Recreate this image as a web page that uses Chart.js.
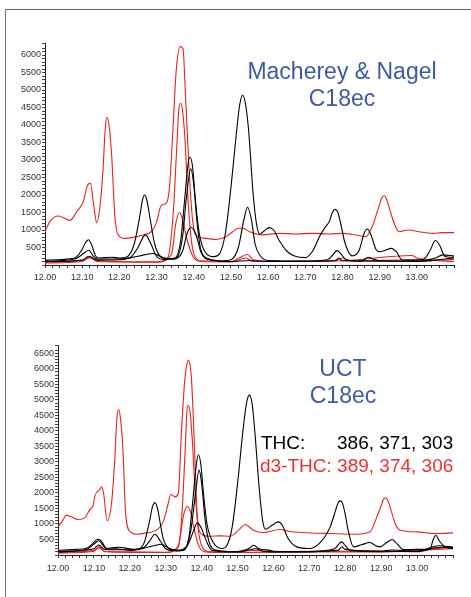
<!DOCTYPE html>
<html>
<head>
<meta charset="utf-8">
<script src="https://cdn.jsdelivr.net/npm/chart.js@4"></script>
<style>
  body { margin: 0; background: #fff; width: 471px; height: 597px; overflow: hidden; position: relative;
         font-family: Arial, "Liberation Sans", sans-serif; }
  #frame { position: absolute; left: 5px; top: 9px; width: 470px; height: 600px;
           border-top: 1.5px solid #666; border-left: 1.5px solid #777; }
  canvas { position: absolute; left: 0; }
  .title { position: absolute; width: 220px; text-align: center; color: #3c5aa8;
           font-size: 23px; line-height: 27px; }
  .ions { position: absolute; font-size: 19px; line-height: 23px; white-space: pre; }
</style>
</head>
<body>
<div id="frame"></div>
<canvas id="top" width="471" height="300" style="top:0"></canvas>
<canvas id="bottom" width="471" height="297" style="top:300px"></canvas>
<div class="title" style="left:232px; top:58px">Macherey &amp; Nagel<br>C18ec</div>
<div class="title" style="left:233px; top:355px">UCT<br>C18ec</div>
<div class="ions" style="left:261px; top:431px; color:#000">THC:</div>
<div class="ions" style="left:337px; top:431px; color:#000">386, 371, 303</div>
<div class="ions" style="left:260px; top:454px; color:#f03030">d3-THC: 389, 374, 306</div>
<script>
// retention time (min) / abundance pairs

// Macherey & Nagel C18ec
const mnBlack1 = [[12.00,140],[12.08,200],[12.10,450],[12.108,620],[12.117,720],[12.126,560],[12.135,280],[12.145,200],
  [12.16,210],[12.18,220],[12.20,200],[12.22,230],[12.24,600],[12.255,1400],[12.262,1850],[12.268,2000],[12.274,1850],
  [12.283,1300],[12.295,600],[12.31,250],[12.33,180],[12.35,200],[12.365,700],[12.375,1800],[12.385,2900],[12.39,3080],
  [12.397,2800],[12.405,1800],[12.415,900],[12.43,380],[12.455,240],[12.47,330],[12.485,900],[12.50,2200],[12.515,3800],
  [12.524,4600],[12.532,4850],[12.54,4550],[12.548,3800],[12.56,2000],[12.57,1100],[12.578,880],[12.59,980],
  [12.603,1067],[12.615,1000],[12.63,700],[12.65,400],[12.675,240],[12.70,210],[12.72,400],[12.74,850],[12.755,1100],
  [12.765,1250],[12.773,1500],[12.78,1590],[12.787,1520],[12.795,1200],[12.805,700],[12.815,400],[12.826,260],
  [12.845,420],[12.858,900],[12.867,1030],[12.876,880],[12.89,450],[12.90,380],[12.915,420],[12.931,476],[12.945,380],
  [12.96,150],[12.98,140],[13.00,140],[13.02,180],[13.035,400],[13.05,700],[13.062,550],[13.075,250],[13.09,220],
  [13.10,230]];
const mnBlack2 = [[12.00,110],[12.08,170],[12.10,300],[12.118,420],[12.13,250],[12.14,170],[12.20,170],[12.23,220],[12.25,500],
  [12.27,860],[12.285,600],[12.30,250],[12.32,160],[12.35,170],[12.37,800],[12.38,1900],[12.392,2750],[12.40,2300],
  [12.41,1100],[12.42,400],[12.44,180],[12.48,120],[12.50,150],[12.52,500],[12.535,1300],[12.545,1648],[12.555,1300],
  [12.565,600],[12.58,250],[12.60,130],[12.70,110],[12.76,150],[12.775,300],[12.785,410],[12.795,330],[12.81,150],
  [12.85,110],[12.87,220],[12.88,180],[12.90,120],[13.00,110],[13.05,200],[13.07,290],[13.10,260]];
const mnBlack3 = [[12.00,100],[12.10,140],[12.118,250],[12.14,140],[12.20,150],[12.25,250],[12.29,330],[12.32,200],[12.35,180],
  [12.37,400],[12.382,900],[12.393,1070],[12.405,900],[12.42,350],[12.44,150],[12.50,100],[12.55,130],[12.60,100],
  [12.78,120],[12.79,200],[12.80,120],[12.90,110],[13.00,100],[13.08,180],[13.10,200]];
const mnRed1 = [[12.00,950],[12.013,1240],[12.036,1400],[12.054,1330],[12.067,1270],[12.085,1520],[12.103,1810],[12.113,2240],
  [12.122,2340],[12.13,1800],[12.139,1210],[12.147,1600],[12.156,2710],[12.162,3900],[12.167,4220],[12.172,4000],
  [12.179,3190],[12.188,1380],[12.201,810],[12.214,760],[12.237,790],[12.264,860],[12.286,950],[12.299,1190],
  [12.313,1710],[12.326,1760],[12.335,2240],[12.344,3860],[12.353,5570],[12.364,6240],[12.371,6190],[12.378,4810],
  [12.389,2430],[12.398,1190],[12.411,810],[12.433,760],[12.46,730],[12.487,810],[12.505,950],[12.52,1050],
  [12.532,1050],[12.55,950],[12.568,890],[12.585,860],[12.63,905],[12.675,886],[12.72,905],[12.764,886],[12.80,905],
  [12.836,857],[12.863,810],[12.88,1095],[12.898,1667],[12.905,1900],[12.912,1980],[12.918,1900],[12.925,1667],
  [12.939,1190],[12.952,952],[12.979,1000],[13.006,952],[13.042,905],[13.069,924],[13.10,924]];
const mnRed2 = [[12.00,80],[12.10,120],[12.12,200],[12.14,130],[12.20,100],[12.30,90],[12.33,200],[12.345,1500],[12.355,3500],
  [12.36,4450],[12.365,4620],[12.37,4400],[12.377,3500],[12.385,1800],[12.395,600],[12.405,200],[12.42,120],[12.50,100],
  [12.545,300],[12.56,150],[12.60,110],[12.70,110],[12.78,130],[12.80,200],[12.82,120],[13.00,150],[13.03,120],
  [13.10,160]];
const mnRed3 = [[12.00,60],[12.10,100],[12.12,230],[12.14,100],[12.30,80],[12.34,300],[12.352,1200],[12.362,1500],[12.37,1300],
  [12.38,800],[12.39,450],[12.40,200],[12.42,100],[12.50,90],[12.54,200],[12.56,100],[12.70,100],[12.80,120],
  [12.987,270],[13.00,200],[13.10,100]];

// UCT C18ec
const uctBlack1 = [[12.00,155],[12.05,180],[12.08,220],[12.095,350],[12.105,470],[12.113,508],[12.122,430],[12.135,220],
  [12.15,230],[12.17,250],[12.20,200],[12.22,180],[12.24,400],[12.255,1100],[12.263,1550],[12.27,1690],[12.277,1500],
  [12.285,1000],[12.293,530],[12.31,210],[12.33,160],[12.35,170],[12.365,600],[12.375,1700],[12.385,2900],[12.391,3230],
  [12.398,2900],[12.405,2000],[12.415,1000],[12.43,450],[12.456,210],[12.47,300],[12.485,900],[12.50,2300],[12.515,4000],
  [12.525,4900],[12.533,5155],[12.541,4850],[12.548,4000],[12.56,2200],[12.57,1100],[12.578,830],[12.595,950],
  [12.614,1069],[12.625,950],[12.64,550],[12.665,262],[12.70,208],[12.73,400],[12.758,907],[12.772,1400],[12.780,1680],
  [12.786,1746],[12.792,1680],[12.80,1300],[12.808,800],[12.823,262],[12.845,330],[12.869,402],[12.885,300],
  [12.897,262],[12.915,400],[12.931,499],[12.945,350],[12.962,176],[13.00,180],[13.036,208],[13.045,500],[13.052,638],
  [13.062,450],[13.075,280],[13.10,208]];
const uctBlack2 = [[12.00,120],[12.08,180],[12.10,350],[12.113,460],[12.13,250],[12.14,170],[12.20,170],[12.24,250],
  [12.255,450],[12.27,671],[12.285,450],[12.30,200],[12.32,140],[12.35,150],[12.37,800],[12.382,1900],[12.393,2735],
  [12.40,2300],[12.41,1100],[12.42,450],[12.44,160],[12.50,110],[12.53,200],[12.545,316],[12.56,200],[12.59,150],
  [12.60,120],[12.70,110],[12.77,200],[12.79,424],[12.80,300],[12.815,140],[12.90,120],[13.00,110],[13.05,230],
  [13.07,250],[13.10,230]];
const uctBlack3 = [[12.00,100],[12.10,200],[12.113,320],[12.13,180],[12.16,200],[12.20,150],[12.25,250],[12.288,348],
  [12.31,200],[12.33,130],[12.36,300],[12.375,700],[12.388,1036],[12.40,850],[12.415,400],[12.43,150],[12.50,100],
  [12.55,200],[12.57,120],[12.60,100],[12.78,150],[12.79,260],[12.80,180],[12.90,120],[12.93,160],[13.00,120],
  [13.06,300],[13.10,260]];
const uctRed1 = [[12.00,908],[12.014,1123],[12.023,1284],[12.037,1230],[12.056,1144],[12.074,1198],[12.088,1445],
  [12.098,1606],[12.102,1875],[12.116,2112],[12.121,2198],[12.127,1983],[12.137,1101],[12.149,1660],[12.158,3058],
  [12.164,4400],[12.169,4692],[12.174,4400],[12.18,3595],[12.189,1230],[12.202,746],[12.219,670],[12.247,714],
  [12.274,800],[12.293,1069],[12.307,1660],[12.314,1950],[12.326,1875],[12.335,1983],[12.344,4026],[12.353,5638],
  [12.358,6100],[12.363,6284],[12.368,6100],[12.372,5638],[12.38,3488],[12.388,1230],[12.398,692],[12.419,606],
  [12.451,617],[12.479,606],[12.493,692],[12.507,853],[12.521,983],[12.544,800],[12.572,725],[12.619,822],[12.642,768],
  [12.684,725],[12.758,692],[12.832,670],[12.869,746],[12.888,1230],[12.902,1660],[12.906,1790],[12.911,1843],
  [12.917,1780],[12.923,1606],[12.939,1015],[12.953,800],[13.00,746],[13.055,692],[13.10,714]];
const uctRed2 = [[12.00,80],[12.10,150],[12.115,230],[12.13,120],[12.20,100],[12.30,90],[12.335,250],[12.345,1300],
  [12.355,3600],[12.359,4650],[12.363,4830],[12.368,4600],[12.374,3700],[12.382,2000],[12.392,700],[12.402,250],
  [12.42,110],[12.50,100],[12.54,150],[12.60,110],[12.80,120],[12.95,130],[13.00,150],[13.10,200]];
const uctRed3 = [[12.00,60],[12.10,120],[12.115,262],[12.13,110],[12.30,80],[12.335,300],[12.35,1300],[12.36,1574],
  [12.37,1350],[12.38,800],[12.39,350],[12.40,150],[12.42,90],[12.50,80],[12.70,90],[12.80,100],[12.90,90],
  [13.00,150],[13.10,250]];

const BLACK = '#000000';
const RED = '#e8231f';

function line(pairs, color) {
  return {
    data: pairs.map(p => ({ x: p[0], y: p[1] })),
    borderColor: color, borderWidth: 1.1, pointRadius: 0,
    cubicInterpolationMode: 'monotone', fill: false
  };
}

function makeChart(id, blacks, reds, yMax, g) {
  const tickFont = { family: 'Arial, "Liberation Sans", sans-serif', size: 9 };
  new Chart(document.getElementById(id), {
    type: 'line',
    data: { datasets: [...blacks.map(b => line(b, BLACK)), ...reds.map(r => line(r, RED))] },
    options: {
      responsive: false, animation: false,
      layout: { padding: { left: 0, top: g.top, right: g.right, bottom: 0 } },
      plugins: { legend: { display: false }, tooltip: { enabled: false } },
      scales: {
        x: {
          type: 'linear', min: 12.00, max: 13.10,
          afterFit: s => { s.height = g.xHeight; },
          border: { color: '#222', width: 1 },
          grid: { drawOnChartArea: false, tickLength: 3, tickColor: '#333' },
          ticks: {
            stepSize: 0.02, autoSkip: false, maxRotation: 0, padding: g.xPad, color: '#333', font: tickFont,
            callback: v => (Math.abs(v * 10 - Math.round(v * 10)) < 1e-6 && v < 13.05) ? v.toFixed(2) : ''
          }
        },
        y: {
          min: 0, max: yMax,
          afterFit: s => { s.width = g.left; },
          border: { color: '#222', width: 1 },
          grid: { drawOnChartArea: false, tickLength: 3, tickColor: '#444' },
          ticks: {
            stepSize: 100, autoSkip: false, padding: 1, color: '#333', font: tickFont,
            callback: v => (v > 0 && v % 500 === 0) ? String(v) : ''
          }
        }
      }
    }
  });
}

makeChart('top', [mnBlack1, mnBlack2, mnBlack3], [mnRed1, mnRed2, mnRed3], 6343,
  { left: 45, right: 17, top: 43, xHeight: 35, xPad: 4 });
makeChart('bottom', [uctBlack1, uctBlack2, uctBlack3], [uctRed1, uctRed2, uctRed3], 6770,
  { left: 58, right: 18, top: 45, xHeight: 42, xPad: 5 });
</script>
</body>
</html>
